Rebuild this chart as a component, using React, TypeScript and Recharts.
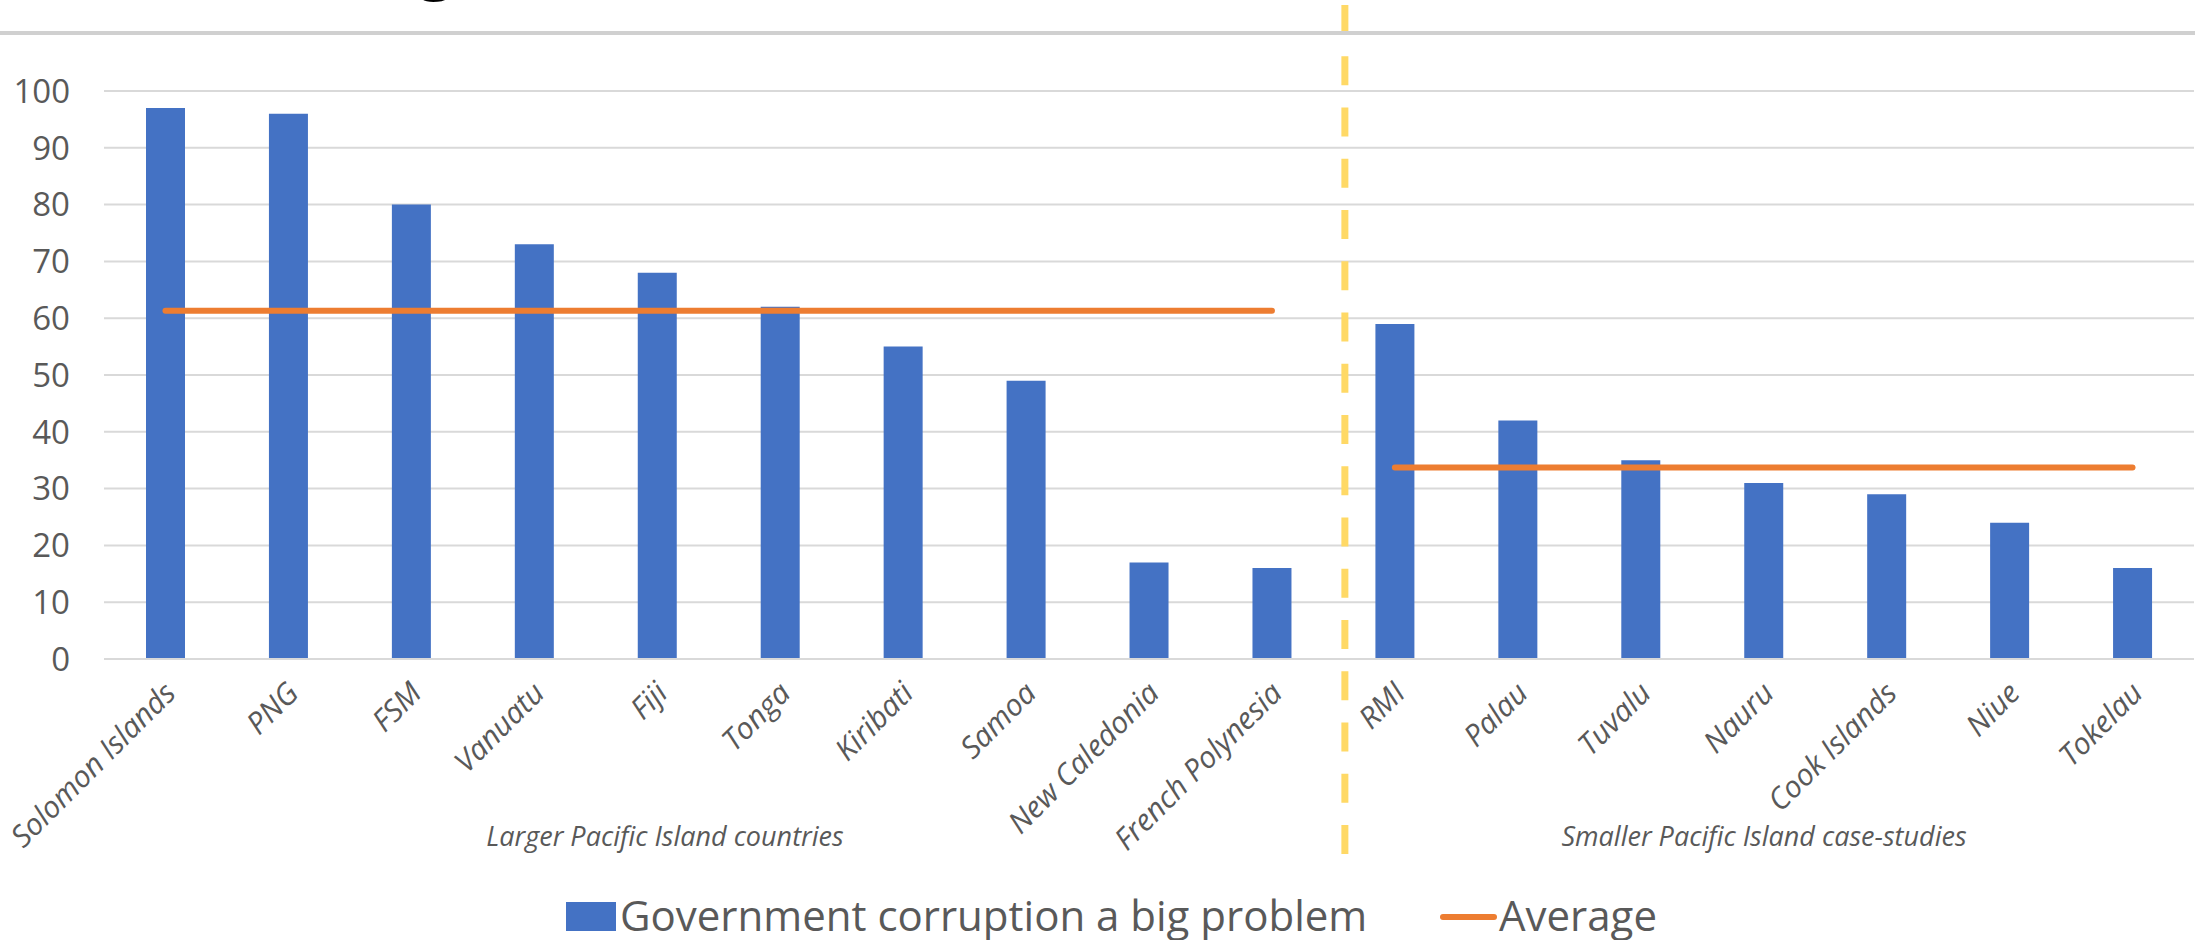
import { ComposedChart, Bar, Line, XAxis, YAxis, CartesianGrid, ReferenceLine, Legend } from 'recharts';

const categories = [
  'Solomon Islands', 'PNG', 'FSM', 'Vanuatu', 'Fiji', 'Tonga', 'Kiribati', 'Samoa', 'New Caledonia',
  'French Polynesia', 'RMI', 'Palau', 'Tuvalu', 'Nauru', 'Cook Islands', 'Niue', 'Tokelau',
];
const corruption = [97, 96, 80, 73, 68, 62, 55, 49, 17, 16, 59, 42, 35, 31, 29, 24, 16];
const averageLarger = [61.3, 61.3, 61.3, 61.3, 61.3, 61.3, 61.3, 61.3, 61.3, 61.3, null, null, null, null, null, null, null];
const averageSmaller = [null, null, null, null, null, null, null, null, null, null, 33.7, 33.7, 33.7, 33.7, 33.7, 33.7, 33.7];
const yTicks = [0, 10, 20, 30, 40, 50, 60, 70, 80, 90, 100];
const groupLabels = ['Larger Pacific Island countries', 'Smaller Pacific Island case-studies'];
const firstSmaller = 'RMI'; // divider sits just left of this category

const data = categories.map((name, i) => ({
  name,
  value: corruption[i],
  avgLarger: averageLarger[i],
  avgSmaller: averageSmaller[i],
}));

const FONT = '"Open Sans", "Noto Sans", sans-serif';
const GREY = '#595959';

function XTick({ x, y, payload }: any) {
  const ax = x + 12;
  const ay = y + 36;
  return (
    <text
      x={ax}
      y={ay}
      transform={`rotate(-45, ${ax}, ${ay})`}
      textAnchor="end"
      fill={GREY}
      fontSize={30}
      fontStyle="italic"
      fontFamily={FONT}
    >
      {payload.value}
    </text>
  );
}

function LegendBox() {
  return (
    <svg width={2195} height={60} style={{ overflow: 'visible', display: 'block' }}>
      <rect x={566} y={22} width={50} height={29} fill="#4472C4" />
      <text x={620} y={51} fill={GREY} fontSize={42} fontFamily={FONT}>
        Government corruption a big problem
      </text>
      <line x1={1443} y1={37} x2={1494} y2={37} stroke="#ED7D31" strokeWidth={6} strokeLinecap="round" />
      <text x={1499} y={51} fill={GREY} fontSize={42} fontFamily={FONT}>
        Average
      </text>
    </svg>
  );
}

export default function App() {
  return (
    <div style={{ position: 'absolute', left: 0, top: 0, width: 2195, height: 940, background: '#fff', overflow: 'hidden' }}>
      <ComposedChart width={2195} height={940} data={data} margin={{ top: 91, right: 1, left: 0, bottom: 0 }}>
        <CartesianGrid vertical={false} stroke="#d9d9d9" strokeWidth={2} />
        <XAxis
          dataKey="name"
          interval={0}
          height={281}
          tickLine={false}
          axisLine={{ stroke: '#d9d9d9', strokeWidth: 2 }}
          tickSize={0}
          tickMargin={0}
          tick={<XTick />}
        />
        <YAxis
          width={104}
          domain={[0, 100]}
          ticks={yTicks}
          axisLine={false}
          tickLine={false}
          tickSize={0}
          tickMargin={34}
          tick={{ fill: GREY, fontSize: 33, fontFamily: FONT }}
        />
        <Bar dataKey="value" fill="#4472C4" barSize={39} isAnimationActive={false} />
        <Line
          dataKey="avgLarger"
          stroke="#ED7D31"
          strokeWidth={6}
          strokeLinecap="round"
          dot={false}
          activeDot={false}
          isAnimationActive={false}
        />
        <Line
          dataKey="avgSmaller"
          stroke="#ED7D31"
          strokeWidth={6}
          strokeLinecap="round"
          dot={false}
          activeDot={false}
          isAnimationActive={false}
        />
        <ReferenceLine
          x={firstSmaller}
          shape={(p: any) => (
            <line
              x1={p.x1 - 50}
              y1={0}
              x2={p.x2 - 50}
              y2={855}
              stroke="#FFD966"
              strokeWidth={7}
              strokeDasharray="29 22.25"
              strokeDashoffset={46.25}
            />
          )}
        />
        <Legend
          verticalAlign="bottom"
          content={<LegendBox />}
          wrapperStyle={{ left: 0, top: 880, width: 2195, height: 0 }}
        />
      </ComposedChart>
      <svg width={2195} height={940} style={{ position: 'absolute', left: 0, top: 0, pointerEvents: 'none' }}>
        <text x={418} y={-14} fontSize={64} fontWeight={700} fontFamily={FONT} fill="#000">g</text>
        <rect x={0} y={31} width={2195} height={4} fill="#d0d0d0" />
        <text x={665} y={846} textAnchor="middle" fill={GREY} fontSize={27} fontStyle="italic" fontFamily={FONT}>
          {groupLabels[0]}
        </text>
        <text x={1764} y={846} textAnchor="middle" fill={GREY} fontSize={27} fontStyle="italic" fontFamily={FONT}>
          {groupLabels[1]}
        </text>
      </svg>
    </div>
  );
}
